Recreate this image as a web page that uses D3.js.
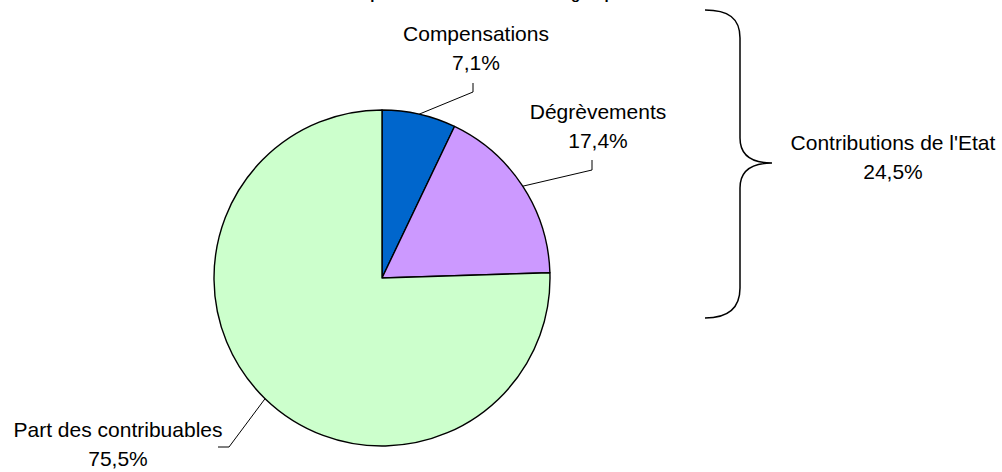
<!DOCTYPE html>
<html><head><meta charset="utf-8">
<script src="https://cdn.jsdelivr.net/npm/d3@7"></script>
<style>html,body{margin:0;padding:0;background:#fff;overflow:hidden;}svg{display:block;font-family:Arial,"Liberation Sans",sans-serif;}</style>
</head><body>
<svg id="c" width="1002" height="472"></svg>
<script>
const categories = ["Compensations", "Dégrèvements", "Part des contribuables"];
const values = [7.1, 17.4, 75.5];
const valueLabels = ["7,1%", "17,4%", "75,5%"];
const groupLabel = "Contributions de l'Etat";
const groupValueLabel = "24,5%";
const titleText = "Répartition des ressources du groupe";

const colors = ["#0066CC", "#CC99FF", "#CCFFCC"];
// label layout: [x, baseline of name, leader knee points]
const labelPos = [
  {x: 476, y: 41, lead: [[473, 83], [473, 92]]},
  {x: 598, y: 119, lead: [[592, 160], [592, 170]]},
  {x: 118, y: 437, lead: [[218, 447], [229, 447]]}
];

const svg = d3.select("#c");
const cx = 382, cy = 278, R = 168;

svg.append("text").attr("x", 351).attr("y", -1)
  .attr("font-size", 15).attr("font-weight", "bold").text(titleText);

const pie = d3.pie().sort(null).value(d => d)(values);
const arc = d3.arc().innerRadius(0).outerRadius(R);
const g = svg.append("g").attr("transform", `translate(${cx},${cy})`);
g.selectAll("path").data(pie).join("path")
  .attr("d", arc).attr("fill", (d, i) => colors[i])
  .attr("stroke", "#000").attr("stroke-width", 1.4).attr("stroke-linejoin", "round");

pie.forEach((d, i) => {
  const a = (d.startAngle + d.endAngle) / 2;
  const ex = cx + R * Math.sin(a), ey = cy - R * Math.cos(a);
  const pts = labelPos[i].lead.concat([[ex, ey]]);
  svg.append("path").attr("d", d3.line()(pts)).attr("fill", "none")
    .attr("stroke", "#000").attr("stroke-width", 1);
  const t = svg.append("text").attr("text-anchor", "middle").attr("font-size", 21).attr("fill", "#000");
  t.append("tspan").attr("x", labelPos[i].x).attr("y", labelPos[i].y).text(categories[i]);
  t.append("tspan").attr("x", labelPos[i].x).attr("y", labelPos[i].y + 29).text(valueLabels[i]);
});

// brace
const brace = d3.path();
brace.moveTo(705, 10);
brace.bezierCurveTo(728, 10, 740, 18, 740, 38);
brace.lineTo(740, 138);
brace.bezierCurveTo(740, 155, 752, 163, 772, 163);
brace.bezierCurveTo(752, 163, 740, 171, 740, 188);
brace.lineTo(740, 288);
brace.bezierCurveTo(740, 308, 728, 318, 705, 318);
svg.append("path").attr("d", brace.toString()).attr("fill", "none")
  .attr("stroke", "#000").attr("stroke-width", 1.5);

const gt = svg.append("text").attr("text-anchor", "middle").attr("font-size", 21);
gt.append("tspan").attr("x", 893).attr("y", 150).text(groupLabel);
gt.append("tspan").attr("x", 893).attr("y", 179).text(groupValueLabel);
</script>
</body></html>
